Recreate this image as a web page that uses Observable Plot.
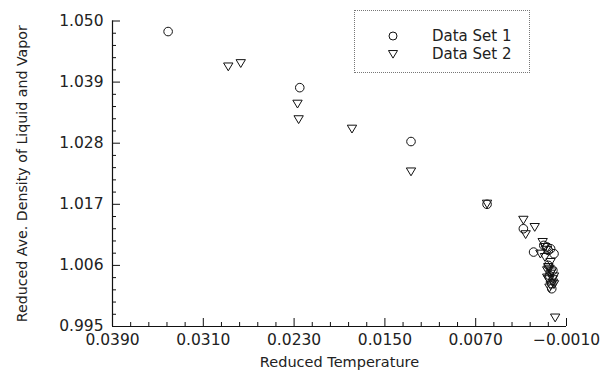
<!DOCTYPE html>
<html>
<head>
<meta charset="utf-8">
<script src="https://cdn.jsdelivr.net/npm/d3@7"></script>
<script src="https://cdn.jsdelivr.net/npm/@observablehq/plot@0.6"></script>
<style>
  html, body { margin: 0; padding: 0; background: #fff; }
  #wrap { position: relative; width: 612px; height: 373px; overflow: hidden; }
  #legend { position: absolute; left: 354px; top: 10px; width: 174px; height: 61px;
            border: 1px dotted #777; background: #fff; font-family: "DejaVu Sans", sans-serif;
            font-size: 15px; color: #222; }
  #legend .row { position: absolute; left: 0; height: 18px; line-height: 18px; }
  #legend svg { position: absolute; left: 33px; top: 4px; }
  #legend span { position: absolute; left: 77px; white-space: nowrap; }
</style>
</head>
<body>
<div id="wrap"></div>
<script>
// ---- data ----
const set1X = [0.0341, 0.0225, 0.0127, 0.0060, 0.0028, 0.0019, 0.0010, 0.0007, 0.0004, 0.0001, 0.0006, 0.0005, 0.0003, 0.0003, 0.0006, 0.0002];
const set1Y = [1.0481, 1.0380, 1.0283, 1.0170, 1.0126, 1.0084, 1.0096, 1.0093, 1.0090, 1.0081, 1.0087, 1.0042, 1.0027, 1.0018, 1.0060, 1.0051];

const set2X = [0.0288, 0.0277, 0.0227, 0.0226, 0.0179, 0.0127, 0.0060, 0.0028, 0.0026, 0.0018, 0.0011, 0.0013, 0.0009, 0.0004, 0.0006, 0.0007, 0.0004, 0.0001, 0.0006, 0.0002, 0.0004, 0.0008, 0.0009, 0.0000,
               0.0005, 0.0003, 0.0007, 0.0002, 0.0005, 0.0001];
const set2Y = [1.0418, 1.0424, 1.0351, 1.0323, 1.0306, 1.0229, 1.0171, 1.0142, 1.0116, 1.0129, 1.0102, 1.0081, 1.0075, 1.0066, 1.0057, 1.0051, 1.0045, 1.0040, 1.0035, 1.0029, 1.0024, 1.0088, 1.0093, 0.9966,
               1.0054, 1.0049, 1.0038, 1.0035, 1.0020, 1.0026];

const seriesNames = ["Data Set 1", "Data Set 2"];

const xMajor = [0.039, 0.031, 0.023, 0.015, 0.007, -0.001];
const xMinor = [0.0374, 0.0358, 0.0342, 0.0326, 0.0294, 0.0278, 0.0262, 0.0246,
                0.0214, 0.0198, 0.0182, 0.0166, 0.0134, 0.0118, 0.0102, 0.0086,
                0.0054, 0.0038, 0.0022, 0.0006];
const yMajor = [0.995, 1.006, 1.017, 1.028, 1.039, 1.050];
const yMinor = [1.0478, 1.0456, 1.0434, 1.0412, 1.0368, 1.0346, 1.0324, 1.0302,
                1.0258, 1.0236, 1.0214, 1.0192, 1.0148, 1.0126, 1.0104, 1.0082,
                1.0038, 1.0016, 0.9994, 0.9972];

const xTitle = "Reduced Temperature";
const yTitle = "Reduced Ave. Density of Liquid and Vapor";

// ---- build ----
const set1 = set1X.map((x, i) => ({x, y: set1Y[i]}));
const set2 = set2X.map((x, i) => ({x, y: set2Y[i]}));

const triDown = {
  draw(ctx, size) {
    const a = Math.sqrt(size);
    ctx.moveTo(-a * 0.55, -a * 0.42);
    ctx.lineTo(a * 0.55, -a * 0.42);
    ctx.lineTo(0, a * 0.5);
    ctx.closePath();
  }
};

const W = 612, H = 373;
const mL = 112, mR = 46, mT = 20.5, mB = 47;
const fW = W - mL - mR, fH = H - mT - mB;
const font = "DejaVu Sans, sans-serif";

const chart = Plot.plot({
  width: W, height: H,
  marginLeft: mL, marginRight: mR, marginTop: mT, marginBottom: mB,
  style: {fontFamily: font, fontSize: "15px", color: "#222", background: "#fff", overflow: "visible"},
  x: {domain: [0.039, -0.001]},
  y: {domain: [0.995, 1.050]},
  marks: [
    Plot.axisX(xMajor, {tickSize: 0, tickPadding: 7, tickFormat: d3.format(".4f"), fontSize: 15.5, label: null}),
    Plot.axisX({ticks: [], tickSize: 0, fontSize: 14.5, label: xTitle, labelAnchor: "center",
      labelArrow: "none", labelOffset: 40}),
    Plot.axisY(yMajor, {tickSize: 0, tickPadding: 9, tickFormat: d3.format(".3f"), fontSize: 15.5, label: null}),
    Plot.axisY({ticks: [], tickSize: 0, fontSize: 14.2, label: yTitle, labelAnchor: "center",
      labelArrow: "none", labelOffset: 96}),
    Plot.ruleX(xMajor, {insetTop: fH - 8, stroke: "#111", strokeWidth: 1}),
    Plot.ruleX(xMinor, {insetTop: fH - 4, stroke: "#111", strokeWidth: 1}),
    Plot.ruleY(yMajor, {insetRight: fW - 8, stroke: "#111", strokeWidth: 1}),
    Plot.ruleY(yMinor, {insetRight: fW - 4, stroke: "#111", strokeWidth: 1}),
    Plot.ruleY([0.995], {stroke: "#111", strokeWidth: 1.2}),
    Plot.ruleX([0.039], {stroke: "#111", strokeWidth: 1.2}),
    Plot.dot(set1, {x: "x", y: "y", r: 4.3, stroke: "#111", strokeWidth: 1, fill: "none"}),
    Plot.dot(set2, {x: "x", y: "y", r: 4.8, symbol: triDown, stroke: "#111", strokeWidth: 1, fill: "none"})
  ]
});

const wrap = document.getElementById("wrap");
wrap.appendChild(chart);

// legend
const legend = document.createElement("div");
legend.id = "legend";
const rowsTop = [16, 34];
seriesNames.forEach((name, i) => {
  const row = document.createElement("div");
  row.className = "row";
  row.style.top = rowsTop[i] + "px";
  row.style.width = "100%";
  const svg = d3.create("svg").attr("width", 10).attr("height", 10);
  if (i === 0) {
    svg.append("circle").attr("cx", 5).attr("cy", 5).attr("r", 4).attr("fill", "none").attr("stroke", "#111");
  } else {
    svg.append("path").attr("d", d3.symbol(triDown, 68)()).attr("transform", "translate(5,5)")
      .attr("fill", "none").attr("stroke", "#111");
  }
  row.appendChild(svg.node());
  const span = document.createElement("span");
  span.textContent = name;
  row.appendChild(span);
  legend.appendChild(row);
});
wrap.appendChild(legend);
</script>
</body>
</html>
